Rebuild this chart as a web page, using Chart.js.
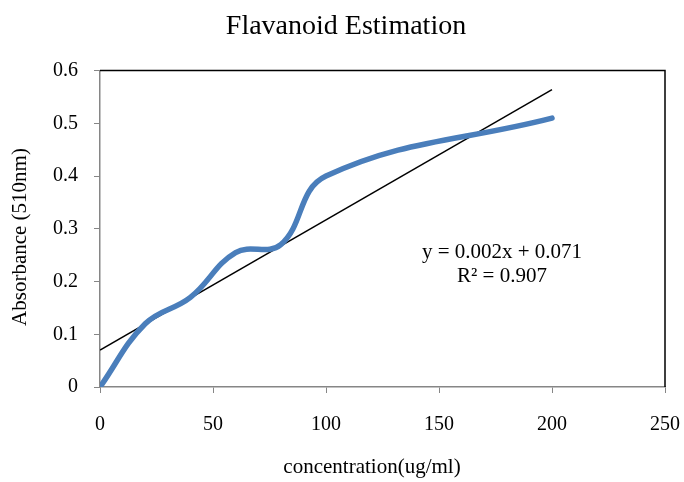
<!DOCTYPE html>
<html lang="en">
<head>
    <meta charset="UTF-8">
    <title>Flavanoid Estimation</title>
    <script src="https://cdn.jsdelivr.net/npm/chart.js@4.4.0/dist/chart.umd.min.js"></script>
    <style>
        body { margin: 0; background: #fff; overflow: hidden; }
        canvas { display: block; }
    </style>
</head>
<body>
    <canvas id="chart" width="684" height="482"></canvas>
    <script>
        const concentration = [0, 20, 40, 60, 80, 100, 200];
        const absorbance = [0, 0.12, 0.17, 0.255, 0.27, 0.40, 0.51];
        const equationLines = ['y = 0.002x + 0.071', 'R\u00b2 = 0.907'];
        const xTitle = 'concentration(ug/ml)';
        const yTitle = 'Absorbance (510nm)';

        // least squares fit for the trendline
        const n = concentration.length;
        const mx = concentration.reduce((a, b) => a + b, 0) / n;
        const my = absorbance.reduce((a, b) => a + b, 0) / n;
        let sxy = 0, sxx = 0;
        for (let i = 0; i < n; i++) {
            sxy += (concentration[i] - mx) * (absorbance[i] - my);
            sxx += (concentration[i] - mx) ** 2;
        }
        const slope = sxy / sxx;
        const intercept = my - slope * mx;
        const xFirst = concentration[0], xLast = concentration[n - 1];

        const serif = '"Liberation Serif", "Times New Roman", serif';

        const framePlugin = {
            id: 'frame',
            afterDraw(chart) {
                const { ctx, chartArea: a } = chart;
                ctx.save();
                ctx.strokeStyle = '#000';
                ctx.lineWidth = 1.5;
                ctx.beginPath();
                ctx.moveTo(a.left, a.top);
                ctx.lineTo(a.right, a.top);
                ctx.lineTo(a.right, a.bottom);
                ctx.stroke();

                ctx.fillStyle = '#000';
                ctx.font = '21px ' + serif;
                ctx.textAlign = 'center';
                ctx.textBaseline = 'middle';
                // equation label
                const cx = a.left + (a.right - a.left) * 0.7115;
                const cy = a.top + (a.bottom - a.top) * 0.576;
                ctx.fillText(equationLines[0], cx, cy);
                ctx.fillText(equationLines[1], cx, cy + 24);
                // axis titles
                ctx.fillText(xTitle, 372, 467);
                ctx.translate(20, 237);
                ctx.rotate(-Math.PI / 2);
                ctx.fillText(yTitle, 0, 0);
                ctx.restore();
            }
        };

        new Chart(document.getElementById('chart').getContext('2d'), {
            type: 'line',
            data: {
                datasets: [{
                    label: 'Absorbance',
                    data: concentration.map((x, i) => ({ x: x, y: absorbance[i] })),
                    borderColor: '#4a7ebb',
                    borderWidth: 5.5,
                    borderCapStyle: 'round',
                    pointRadius: 0,
                    tension: 0.4,
                    fill: false
                }, {
                    label: 'Linear',
                    data: [
                        { x: xFirst, y: intercept + slope * xFirst },
                        { x: xLast, y: intercept + slope * xLast }
                    ],
                    borderColor: '#000',
                    borderWidth: 1.5,
                    pointRadius: 0,
                    tension: 0,
                    fill: false
                }]
            },
            options: {
                responsive: false,
                animation: false,
                layout: { padding: { left: 8, right: 0, top: 0, bottom: 0 } },
                plugins: {
                    legend: { display: false },
                    tooltip: { enabled: false },
                    title: {
                        display: true,
                        text: 'Flavanoid Estimation',
                        color: '#000',
                        font: { family: serif, size: 28, weight: 'normal' },
                        padding: { top: 10, bottom: 27 }
                    }
                },
                scales: {
                    x: {
                        type: 'linear',
                        min: 0,
                        max: 250,
                        ticks: { stepSize: 50, color: '#000', font: { family: serif, size: 20 }, padding: 20, maxRotation: 0 },
                        grid: { display: true, drawOnChartArea: false, drawTicks: true, tickLength: 6, color: '#868686' },
                        border: { color: '#868686', width: 1.5 },
                        afterFit(scale) {
                            scale.height = 95;
                            scale.paddingLeft = 0;
                            scale.paddingRight = 19;
                        }
                    },
                    y: {
                        min: 0,
                        max: 0.6,
                        ticks: { stepSize: 0.1, color: '#000', font: { family: serif, size: 20 }, padding: 16 },
                        grid: { display: true, drawOnChartArea: false, drawTicks: true, tickLength: 6, color: '#868686' },
                        border: { color: '#868686', width: 1.5 },
                        afterFit(scale) { scale.width = 92; }
                    }
                }
            },
            plugins: [framePlugin]
        });
    </script>
</body>
</html>
